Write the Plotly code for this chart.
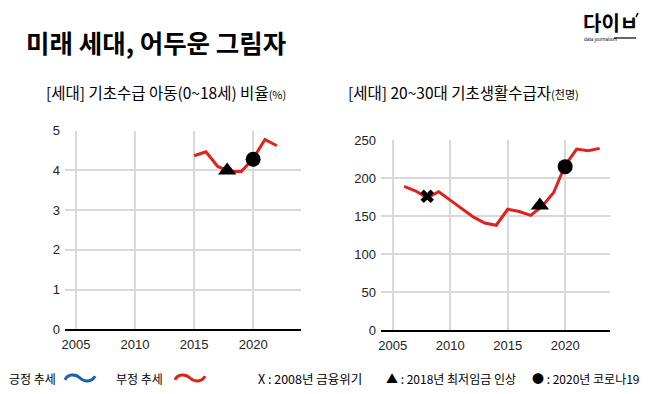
import plotly.graph_objects as go

# page has an 8px body margin, so figure is drawn 8px in and is 8px smaller
OFF = 8
W, H = 658 - OFF, 394 - OFF

# ---- data ----
child_years = [2015, 2016, 2017, 2018, 2019, 2020, 2021, 2022]
child_rate = [4.37, 4.47, 4.1, 3.97, 3.97, 4.3, 4.78, 4.62]
child_min_wage = (2017.8, 4.0)
child_covid = (2020, 4.28)

youth_years = list(range(2006, 2024))
youth_count = [189, 183, 174, 182, 171, 160, 149, 141, 138, 159, 156, 151, 163, 181, 217, 238, 236, 239]
youth_crisis = (2008, 176)
youth_min_wage = (2017.8, 164)
youth_covid = (2020, 215)

x_ticks = [2005, 2010, 2015, 2020]
left_y_ticks = [0, 1, 2, 3, 4, 5]
right_y_ticks = [0, 50, 100, 150, 200, 250]

RED = "#e3211c"
BLUE = "#1d5fb0"
FONT = "Noto Sans CJK KR"
TICKFONT = "Liberation Sans"

def px(x):
    return (x - OFF) / W

def py(y):
    return 1 - (y - OFF) / H

fig = go.Figure()

# left chart
fig.add_trace(go.Scatter(x=child_years, y=child_rate, mode="lines",
                         line=dict(color=RED, width=3), xaxis="x", yaxis="y", showlegend=False))
fig.add_trace(go.Scatter(x=[child_min_wage[0]], y=[child_min_wage[1]], mode="markers",
                         marker=dict(symbol="triangle-up", size=16, color="black"),
                         xaxis="x", yaxis="y", showlegend=False))
fig.add_trace(go.Scatter(x=[child_covid[0]], y=[child_covid[1]], mode="markers",
                         marker=dict(symbol="circle", size=15, color="black"),
                         xaxis="x", yaxis="y", showlegend=False))

# right chart
fig.add_trace(go.Scatter(x=youth_years, y=youth_count, mode="lines",
                         line=dict(color=RED, width=3), xaxis="x2", yaxis="y2", showlegend=False))
fig.add_trace(go.Scatter(x=[youth_crisis[0]], y=[youth_crisis[1]], mode="markers",
                         marker=dict(symbol="x", size=12, color="black"),
                         xaxis="x2", yaxis="y2", showlegend=False))
fig.add_trace(go.Scatter(x=[youth_min_wage[0]], y=[youth_min_wage[1]], mode="markers",
                         marker=dict(symbol="triangle-up", size=16, color="black"),
                         xaxis="x2", yaxis="y2", showlegend=False))
fig.add_trace(go.Scatter(x=[youth_covid[0]], y=[youth_covid[1]], mode="markers",
                         marker=dict(symbol="circle", size=15, color="black"),
                         xaxis="x2", yaxis="y2", showlegend=False))

xaxis_common = dict(tickvals=x_ticks, showgrid=True, gridcolor="#d9d9d9", gridwidth=1.5,
                    zeroline=False, showline=True, linecolor="black", linewidth=1.5,
                    tickfont=dict(family=TICKFONT, size=13, color="#222"), ticks="",
                    automargin=False, fixedrange=True, ticklabelstandoff=2)
yaxis_common = dict(showgrid=True, gridcolor="#d9d9d9", gridwidth=1.5, zeroline=False,
                    showline=False, ticks="", tickfont=dict(family=TICKFONT, size=13, color="#222"),
                    automargin=False, fixedrange=True, ticklabelstandoff=4)

fig.update_layout(
    width=W, height=H,
    margin=dict(l=0, r=0, t=0, b=0, autoexpand=False),
    paper_bgcolor="white", plot_bgcolor="white",
    xaxis=dict(domain=[px(65), px(301)], range=[2004.07, 2024.05], anchor="y", **xaxis_common),
    yaxis=dict(domain=[py(329.3), py(130.7)], range=[0, 5], tickvals=left_y_ticks, anchor="x", **yaxis_common),
    xaxis2=dict(domain=[px(381), px(610)], range=[2003.98, 2023.9], anchor="y2", **xaxis_common),
    yaxis2=dict(domain=[py(330.3), py(140)], range=[0, 250], tickvals=right_y_ticks, anchor="x2", **yaxis_common),
)

annotations = []
def text(x, y, s, size, xanchor="left", family=FONT, color="black"):
    annotations.append(dict(x=px(x), y=py(y), xref="paper", yref="paper", text=s, showarrow=False,
                            xanchor=xanchor, yanchor="middle", borderpad=0,
                            font=dict(family=family, size=size, color=color)))

text(25, 42, "<b>미래 세대, 어두운 그림자</b>", 25.5)
text(45, 92, "[세대] 기초수급 아동(0~18세) 비율<span style='font-size:11px'>(%)</span>", 15.5)
text(347, 92, "[세대] 20~30대 기초생활수급자<span style='font-size:11px'>(천명)</span>", 15.5)

# logo
text(582, 22, "<b>다이ㅂ</b>", 20)
text(583, 40, "data journalism", 4.5)

# legend
ly = 378
text(8, ly, "긍정 추세", 12)
text(115, ly, "부정 추세", 12)
text(257, ly, "X : 2008년 금융위기", 12.5)
text(385, ly, "▲ : 2018년 최저임금 인상", 12)
text(531, ly, "● : 2020년 코로나19", 12)

fig.update_layout(annotations=annotations)

def wave(x0, x1, yc, amp=3.0):
    w = x1 - x0
    d = f"M {px(x0)},{py(yc + amp*0.6)}"
    d += f" C {px(x0 + w*0.1)},{py(yc - amp*1.4)} {px(x0 + w*0.35)},{py(yc - amp*1.4)} {px(x0 + w*0.5)},{py(yc)}"
    d += f" C {px(x0 + w*0.65)},{py(yc + amp*1.4)} {px(x0 + w*0.9)},{py(yc + amp*1.4)} {px(x1)},{py(yc - amp*0.6)}"
    return d

fig.update_layout(shapes=[
    dict(type="path", xref="paper", yref="paper", path=wave(65, 95, ly),
         line=dict(color=BLUE, width=3)),
    dict(type="path", xref="paper", yref="paper", path=wave(175, 205, ly),
         line=dict(color=RED, width=3)),
    # logo underline and accent
    dict(type="line", xref="paper", yref="paper", x0=px(614), x1=px(636), y0=py(38), y1=py(38),
         line=dict(color="black", width=1.2)),
    dict(type="line", xref="paper", yref="paper", x0=px(636), x1=px(638), y0=py(17), y1=py(13),
         line=dict(color="black", width=1.5)),
])

fig.write_html("out.html")
